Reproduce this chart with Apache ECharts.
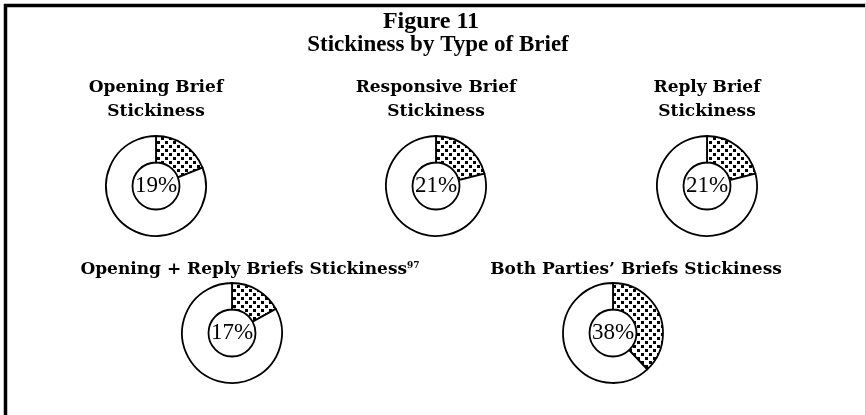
<!DOCTYPE html>
<html>
<head>
<meta charset="utf-8">
<script src="https://cdn.jsdelivr.net/npm/echarts@6/dist/echarts.min.js"></script>
<style>
  html, body { margin: 0; padding: 0; background: #fff; }
  #chart { width: 866px; height: 415px; }
</style>
</head>
<body>
<div id="chart"></div>
<script>
// data
const panelTitles = [
  ['Opening Brief', 'Stickiness'],
  ['Responsive Brief', 'Stickiness'],
  ['Reply Brief', 'Stickiness'],
  ['Opening + Reply Briefs Stickiness'],
  ["Both Parties\u2019 Briefs Stickiness"]
]
const stickiness = [19, 21, 21, 17, 38]

// layout (px)
const centers = [[156, 186], [436, 186], [707, 186], [232, 333], [613, 333]]
const titleX = [156, 436, 707, 250, 636]
const titleY = [[88, 112], [88, 112], [88, 112], [270], [270]]

// checkered fill for the sticky slice
const makePattern = () => {
  const c = document.createElement('canvas')
  c.width = 8
  c.height = 8
  const ctx = c.getContext('2d')
  ctx.fillStyle = '#fff'
  ctx.fillRect(0, 0, 8, 8)
  ctx.fillStyle = '#000'
  ctx.fillRect(1, 1, 3, 3)
  ctx.fillRect(5, 5, 3, 3)
  return c
}
const pattern = { image: makePattern(), repeat: 'repeat' }

const chart = echarts.init(document.getElementById('chart'), null, { renderer: 'canvas' })

const serif = '"Liberation Serif", "Times New Roman", serif'
const labelFont = '"DejaVu Serif", serif'

const graphics = [
  { type: 'line', shape: { x1: 4, y1: 5.5, x2: 866, y2: 5.5 }, style: { stroke: '#000', lineWidth: 3.5 } },
  { type: 'line', shape: { x1: 5.5, y1: 4, x2: 5.5, y2: 415 }, style: { stroke: '#000', lineWidth: 3.5 } },
  { type: 'line', shape: { x1: 865.5, y1: 4, x2: 865.5, y2: 415 }, style: { stroke: '#ccc', lineWidth: 1 } },
  {
    type: 'text', x: 431, y: 22,
    style: { text: 'Figure 11', font: 'bold 24px ' + serif, fill: '#000', textAlign: 'center', textVerticalAlign: 'middle' }
  },
  {
    type: 'text', x: 438, y: 45,
    style: { text: 'Stickiness by Type of Brief', font: 'bold 23px ' + serif, fill: '#000', textAlign: 'center', textVerticalAlign: 'middle' }
  }
]

panelTitles.forEach((lines, i) => {
  lines.forEach((t, j) => {
    const isSup = i === 3
    graphics.push({
      type: 'text',
      x: titleX[i],
      y: titleY[i][j],
      style: isSup
        ? {
            text: '{a|' + t + '}{s|97}',
            rich: {
              a: { font: 'bold 17px ' + labelFont, fill: '#000' },
              s: { font: 'bold 9px ' + labelFont, fill: '#000', verticalAlign: 'top' }
            },
            textAlign: 'center', textVerticalAlign: 'middle'
          }
        : { text: t, font: 'bold 17px ' + labelFont, fill: '#000', textAlign: 'center', textVerticalAlign: 'middle' }
    })
  })
})

const series = stickiness.map((v, i) => ({
  type: 'pie',
  center: centers[i],
  radius: [23.5, 50],
  startAngle: 90,
  clockwise: true,
  silent: true,
  animation: false,
  labelLine: { show: false },
  emphasis: { disabled: true },
  itemStyle: { borderColor: '#000', borderWidth: 1.8 },
  data: [
    {
      value: v,
      itemStyle: { color: pattern },
      label: {
        show: true, position: 'center', formatter: v + '%',
        fontFamily: serif, fontSize: 23, color: '#000'
      }
    },
    { value: 100 - v, itemStyle: { color: '#fff' }, label: { show: false } }
  ]
}))

chart.setOption({
  backgroundColor: '#fff',
  animation: false,
  graphic: graphics,
  series
})
</script>
</body>
</html>
